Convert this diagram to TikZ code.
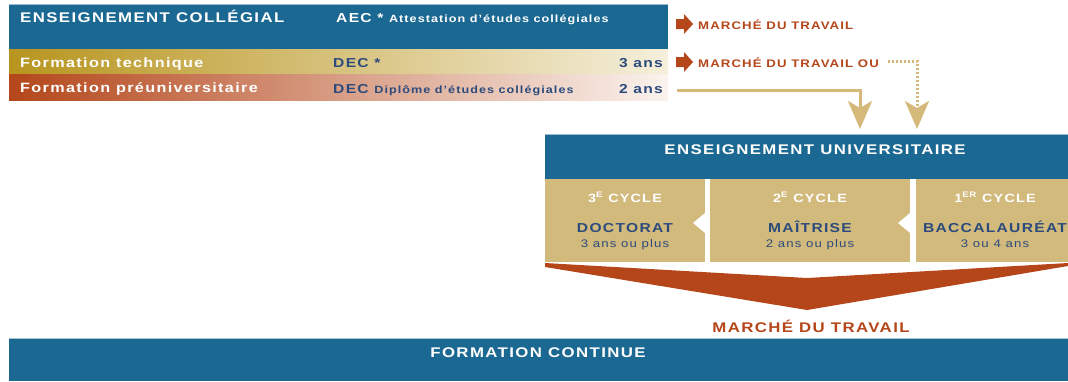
\documentclass[tikz,border=0pt]{standalone}
\usepackage{fontspec}
\setmainfont{Liberation Sans}[LetterSpace=10, FakeStretch=1.2]
\usetikzlibrary{arrows.meta,positioning}
\definecolor{bandblue}{HTML}{1B6892}
\definecolor{celltan}{HTML}{D2B97C}
\definecolor{rust}{HTML}{B4461A}
\definecolor{navy}{HTML}{2C4B7C}
\definecolor{darkgold}{HTML}{B8951F}
\definecolor{paleband}{HTML}{F5EFDC}
\definecolor{palerust}{HTML}{FBF3EE}
\definecolor{linegold}{HTML}{D4B97A}

\begin{document}
\begin{tikzpicture}[x=1pt, y=-1pt,
	heading/.style={text=white, inner sep=0, font=\bfseries\fontsize{14}{16}\selectfont},
	bandtext/.style={text=white, inner sep=0, font=\bfseries\fontsize{13.5}{15}\selectfont},
	navytext/.style={text=navy, inner sep=0, font=\bfseries\fontsize{13}{15}\selectfont},
	marche/.style={text=rust, inner sep=0, font=\bfseries\fontsize{11}{13}\selectfont},
	cycletext/.style={text=white, inner sep=0, font=\bfseries\fontsize{12}{14}\selectfont},
	degree/.style={text=navy, inner sep=0, font=\bfseries\fontsize{13}{15}\selectfont},
	duration/.style={text=navy, inner sep=0, font=\fontsize{11}{13}\selectfont},
	goldline/.style={draw=linegold, line width=3pt, -{Stealth[length=28pt, width=24pt, inset=7pt]}},
	golddot/.style={goldline, dash pattern=on 2pt off 2pt}]
	\useasboundingbox (0,0) rectangle (1068,381);

	\fill[bandblue] (9,4) rectangle (668,49);
	\draw[bandblue!45, line width=1pt] (9,4.5) -- (668,4.5);
	\shade[left color=darkgold, right color=paleband] (9,49) rectangle (668,74);
	\shade[left color=rust, right color=palerust] (9,74) rectangle (668,100);

	\node[heading, anchor=base west] (collegial) at (20,22) {ENSEIGNEMENT COLLÉGIAL};
	\node[text=white, inner sep=0, anchor=base west, font=\bfseries] (aec) at (336,22) {\fontsize{13}{15}\selectfont AEC * \fontsize{10.5}{12}\selectfont Attestation d’études collégiales};
	\node[bandtext, anchor=base west] (tech) at (20,67) {Formation technique};
	\node[bandtext, anchor=base west] (preu) at (20,92) {Formation préuniversitaire};
	\node[navytext, anchor=base west] (dec1) at (333,67) {DEC *};
	\node[navytext, anchor=base west] (dec2) at (333,93) {DEC \fontsize{10.5}{12}\selectfont Diplôme d’études collégiales};
	\node[navytext, anchor=base east] (ans3) at (663,67) {3 ans};
	\node[navytext, anchor=base east] (ans2) at (663,93) {2 ans};

	\foreach \y in {24,62} {
		\fill[rust] (676,\y-5) -- (684,\y-5) -- (684,\y-10) -- (693,\y) -- (684,\y+10) -- (684,\y+5) -- (676,\y+5) -- cycle;
	}
	\node[marche, anchor=base west] (mt1) at (698,29) {MARCHÉ DU TRAVAIL};
	\node[marche, anchor=base west] (mt2) at (698,67) {MARCHÉ DU TRAVAIL OU};

	\coordinate (t1) at (860,129);
	\coordinate (t2) at (917,129);
	\draw[goldline] ([xshift=14pt, yshift=-2pt]ans2.east) -| (t1);
	\draw[golddot] ([xshift=9pt, yshift=1pt]mt2.east) -| (t2);

	\fill[bandblue] (545,134) rectangle (1068,179);
	\draw[bandblue!45, line width=1pt] (545,134.5) -- (1068,134.5);
	\node[heading, anchor=base] (univ) at (815,154) {ENSEIGNEMENT UNIVERSITAIRE};

	\foreach \n/\a/\b/\c/\cyc/\deg/\dur in {
		3/545/705/625/3\textsuperscript{E}/DOCTORAT/3 ans ou plus,
		2/710/910/810/2\textsuperscript{E}/MAÎTRISE/2 ans ou plus,
		1/916/1068/995/1\textsuperscript{ER}/BACCALAURÉAT/3 ou 4 ans} {
		\fill[celltan] (\a,179) rectangle (\b,262);
		\node[cycletext, anchor=base] (cyc\n) at (\c,202) {\cyc\ CYCLE};
		\node[degree, anchor=base] (deg\n) at (\c,232) {\deg};
		\node[duration, anchor=base] (dur\n) at (\c,247) {\dur};
	}
	\foreach \x in {705,910} {
		\fill[white] (\x,213) -- (\x-12,223) -- (\x,233) -- cycle;
	}

	\fill[rust] (545,263) -- (807,278) -- (1068,263) -- (1068,266) -- (807,310) -- (545,267) -- cycle;
	\node[heading, text=rust, anchor=base] (mt3) at (811,332) {MARCHÉ DU TRAVAIL};

	\fill[bandblue] (9,338) rectangle (1068,381);
	\draw[bandblue!40, line width=1pt] (9,338.5) -- (1068,338.5);
	\node[heading, anchor=base] (continue) at (538,357) {FORMATION CONTINUE};
\end{tikzpicture}
\end{document}
